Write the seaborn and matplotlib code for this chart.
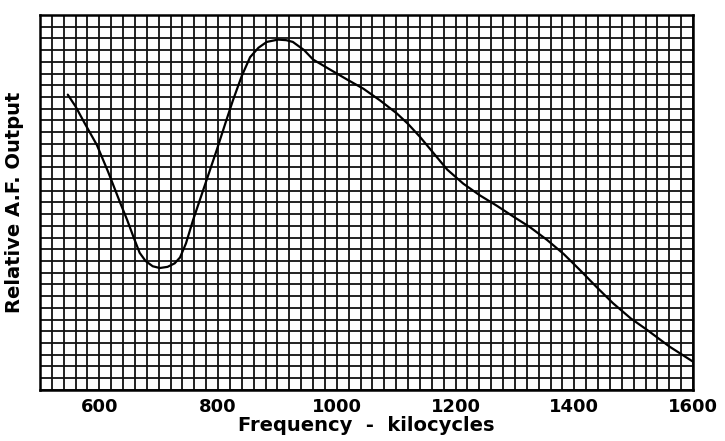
import matplotlib
matplotlib.use("Agg")
import matplotlib.pyplot as plt
from matplotlib.ticker import MultipleLocator
import pandas as pd
import seaborn as sns

freq_kc = [547, 560, 575, 596, 615, 635, 647, 658, 668, 678, 690, 702, 715, 727,
           736, 746, 758, 778, 798, 812, 825, 840, 854, 868, 882, 901, 915, 926,
           945, 960, 990, 1017, 1045, 1073, 1101, 1120, 1140, 1163, 1186, 1213,
           1241, 1270, 1297, 1325, 1354, 1382, 1410, 1437, 1465, 1495, 1523,
           1560, 1600]
af_output = [25.2, 24.2, 22.8, 20.9, 18.6, 16.0, 14.5, 13.0, 11.7, 11.0, 10.55,
             10.4, 10.5, 10.8, 11.3, 12.5, 14.5, 17.5, 20.5, 22.7, 24.7, 26.8,
             28.4, 29.2, 29.7, 29.9, 29.85, 29.7, 29.0, 28.2, 27.3, 26.5, 25.7,
             24.7, 23.6, 22.7, 21.6, 20.2, 18.8, 17.6, 16.6, 15.7, 14.8, 13.9,
             12.8, 11.6, 10.2, 8.8, 7.4, 6.1, 5.1, 3.7, 2.4]
xtick_vals = [600, 800, 1000, 1200, 1400, 1600]

df = pd.DataFrame({"freq": freq_kc, "out": af_output})

sns.set_style("white")
plt.rcParams["font.family"] = ["DejaVu Sans"]
plt.rcParams["text.color"] = "black"
plt.rcParams["axes.labelcolor"] = "black"
plt.rcParams["xtick.color"] = "black"

fig = plt.figure(figsize=(7.25, 4.41), dpi=100)
ax = fig.add_axes([0.055, 0.116, 0.901, 0.850])

sns.lineplot(data=df, x="freq", y="out", ax=ax, color="black", linewidth=1.6)

ax.set_xlim(500, 1600)
ax.set_ylim(0, 32)
ax.xaxis.set_minor_locator(MultipleLocator(20))
ax.yaxis.set_minor_locator(MultipleLocator(1))
ax.set_xticks(xtick_vals)
ax.set_xticklabels([str(v) for v in xtick_vals], fontsize=13, fontweight="bold")
ax.set_yticks([])
ax.tick_params(axis="x", which="both", length=0, pad=6, labelcolor="black")
ax.grid(True, which="both", color="#111111", linewidth=1.3)
ax.set_axisbelow(True)
for s in ax.spines.values():
    s.set_color("black")
    s.set_linewidth(1.8)

ax.set_xlabel("Frequency  -  kilocycles", fontsize=14, fontweight="bold",
              labelpad=0, color="black")
ax.set_ylabel("Relative A.F. Output", fontsize=14, fontweight="bold",
              labelpad=6, color="black")

fig.savefig("out.png", dpi=100)
